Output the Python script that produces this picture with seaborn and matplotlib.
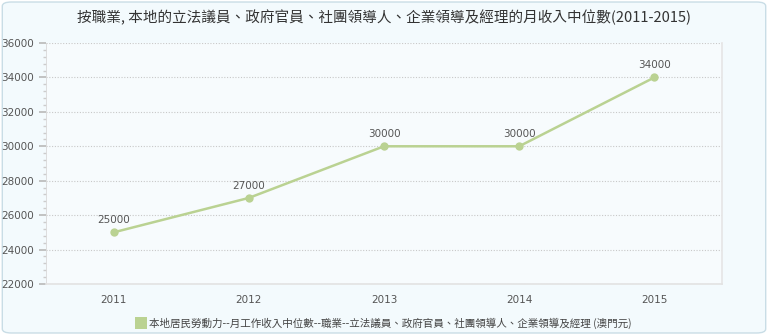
import matplotlib
matplotlib.use("Agg")
import matplotlib.pyplot as plt
import seaborn as sns
import pandas as pd
from matplotlib.patches import FancyBboxPatch
from matplotlib.ticker import AutoMinorLocator

# ============================================================
# Data
# ============================================================

years = ["2011", "2012", "2013", "2014", "2015"]
income = [25000, 27000, 30000, 30000, 34000]
series_name = "本地居民勞動力--月工作收入中位數--職業--立法議員、政府官員、社團領導人、企業領導及經理 (澳門元)"
title = "按職業, 本地的立法議員、政府官員、社團領導人、企業領導及經理的月收入中位數(2011-2015)"

df = pd.DataFrame({"year": years, "income": income})

# ============================================================
# Theme
# ============================================================

sns.set_theme(style="white")
plt.rcParams["font.family"] = ["Noto Sans CJK TC", "DejaVu Sans"]

num_font = ["DejaVu Sans"]
line_color = "#bad292"

fig = plt.figure(figsize=(7.68, 3.35), dpi=100)
fig.patch.set_facecolor("white")

bg = FancyBboxPatch(
    (0.003, 0.006), 0.994, 0.988,
    boxstyle="round,pad=0,rounding_size=0.012",
    transform=fig.transFigure,
    facecolor="#f3fafd",
    edgecolor="#c9dde6",
    linewidth=1,
    zorder=-10,
)
fig.patches.append(bg)

ax = fig.add_axes([46 / 768, 1 - 284 / 335, (722 - 46) / 768, (284 - 43) / 335])
ax.set_facecolor("#f7fbfd")

sns.lineplot(
    data=df,
    x="year",
    y="income",
    color=line_color,
    linewidth=1.8,
    marker="o",
    markersize=6,
    markeredgewidth=0,
    ax=ax,
    label=series_name,
)

for i, v in enumerate(income):
    ax.annotate(
        f"{v}",
        (i, v),
        xytext=(0, 5),
        textcoords="offset points",
        ha="center",
        va="bottom",
        fontsize=7.5,
        color="#555555",
        family=num_font,
    )

ax.set_xlim(-0.5, 4.5)
ax.set_ylim(22000, 36000)
ax.set_yticks(range(22000, 36001, 2000))
ax.yaxis.set_minor_locator(AutoMinorLocator(5))
ax.set_xlabel("")
ax.set_ylabel("")

ax.grid(axis="y", which="major", linestyle=(0, (1, 1.5)), color="#c8c8c8", linewidth=0.8)

for side in ["top", "left", "bottom"]:
    ax.spines[side].set_visible(False)
ax.spines["right"].set_color("#e6e6e6")
ax.spines["left"].set_visible(True)
ax.spines["left"].set_color("#d8d8d8")
ax.spines["left"].set_linewidth(0.6)
ax.spines["bottom"].set_visible(True)
ax.spines["bottom"].set_color("#e3e3e3")

ax.tick_params(axis="y", which="major", length=5, color="#bbbbbb", labelsize=7.5, labelcolor="#555555", left=True)
ax.tick_params(axis="y", which="minor", length=2, color="#cccccc", left=True)
ax.tick_params(axis="x", length=0, labelsize=7.5, labelcolor="#555555", pad=8)
for lbl in ax.get_xticklabels() + ax.get_yticklabels():
    lbl.set_family(num_font)

leg = ax.legend(
    loc="upper center",
    bbox_to_anchor=(0.5, -0.1),
    frameon=False,
    fontsize=7.6,
    handlelength=0.8,
    handletextpad=0.4,
    labelcolor="#444444",
)
for h in leg.legend_handles:
    h.set_marker("s")
    h.set_markersize(8)
    h.set_linestyle("")

fig.text(0.5, 1 - 17 / 335, title, ha="center", va="center", fontsize=10.5, color="#333333")

plt.savefig("out.png", dpi=100)
plt.close()
